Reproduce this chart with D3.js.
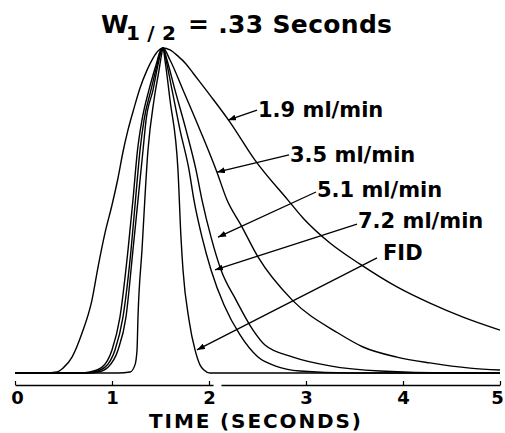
<!DOCTYPE html>
<html>
<head>
<meta charset="utf-8">
<script src="https://cdn.jsdelivr.net/npm/d3@7"></script>
<style>
  body { margin: 0; background: #fff; }
  text { font-family: "DejaVu Sans", "Liberation Sans", sans-serif; font-weight: bold; fill: #000; }
</style>
</head>
<body>
<svg width="505" height="433"></svg>
<script>
// peak traces: [time (s), relative signal]
let flow19 = [[0,0],[0.31,0],[0.433,0.003],[0.495,0.015],[0.588,0.049],[0.691,0.123],[0.794,0.225],[0.856,0.326],
  [0.928,0.431],[1.0,0.517],[1.062,0.6],[1.113,0.68],[1.165,0.748],[1.227,0.815],[1.289,0.877],[1.361,0.932],
  [1.423,0.969],[1.474,0.991],[1.526,1],[1.598,0.994],[1.68,0.975],[1.763,0.951],[1.835,0.923],[2.01,0.855],
  [2.216,0.772],[2.474,0.655],[2.814,0.532],[2.969,0.477],[3.247,0.4],[3.557,0.335],[3.938,0.265],[4.278,0.215],
  [4.619,0.172],[5,0.132]];
let flow35 = [[0,0],[0.67,0],[0.773,0.003],[0.897,0.018],[1.0,0.071],[1.082,0.172],[1.165,0.378],[1.216,0.532],
  [1.263,0.686],[1.309,0.778],[1.381,0.871],[1.454,0.948],[1.495,0.988],[1.526,1],[1.598,0.963],[1.732,0.871],
  [1.907,0.748],[2.082,0.618],[2.186,0.532],[2.33,0.455],[2.505,0.357],[2.856,0.225],[3.33,0.123],[3.588,0.08],
  [3.938,0.049],[4.278,0.031],[4.691,0.015],[5,0.009]];
let flow51 = [[0,0],[0.711,0],[0.814,0.003],[0.928,0.018],[1.031,0.071],[1.113,0.172],[1.196,0.378],[1.242,0.532],
  [1.289,0.686],[1.33,0.778],[1.402,0.871],[1.464,0.948],[1.495,0.988],[1.526,1],[1.567,0.963],[1.649,0.871],
  [1.763,0.748],[1.866,0.625],[1.928,0.532],[2.021,0.418],[2.124,0.317],[2.278,0.225],[2.454,0.132],[2.577,0.086],
  [2.866,0.049],[3.247,0.022],[3.763,0.006],[4.485,0],[5,0]];
let flow72 = [[0,0],[0.753,0],[0.856,0.003],[0.959,0.018],[1.062,0.071],[1.144,0.172],[1.216,0.378],[1.268,0.532],
  [1.32,0.686],[1.351,0.778],[1.423,0.871],[1.474,0.948],[1.505,0.988],[1.526,1],[1.557,0.963],[1.619,0.871],
  [1.701,0.748],[1.794,0.625],[1.845,0.532],[1.928,0.418],[2.021,0.317],[2.155,0.209],[2.32,0.117],[2.505,0.049],
  [2.68,0.022],[2.938,0.006],[3.454,0],[5,0]];
let fid = [[0,0],[1.062,0],[1.186,0.003],[1.237,0.025],[1.258,0.071],[1.268,0.172],[1.309,0.378],[1.371,0.686],
  [1.433,0.84],[1.485,0.932],[1.51,0.978],[1.526,1],[1.546,0.963],[1.598,0.84],[1.68,0.625],[1.711,0.418],
  [1.732,0.317],[1.794,0.163],[1.856,0.071],[1.907,0.025],[1.948,0.009],[2.01,0],[2.216,0],[5,0]];

let traces = [flow19, flow35, flow51, flow72, fid];
let labels = ["1.9 ml/min", "3.5 ml/min", "5.1 ml/min", "7.2 ml/min", "FID"];
// where each label sits and where its arrow points, in [time, signal]
let labelAt = [[2.505,0.788],[2.835,0.649],[3.113,0.542],[3.536,0.446],[3.794,0.348]];
let arrowFrom = [[2.495,0.809],[2.825,0.671],[3.103,0.557],[3.526,0.458],[3.732,0.354]];
let arrowTo = [[2.196,0.778],[2.082,0.618],[2.093,0.418],[2.062,0.317],[1.876,0.071]];
let ticks = [0, 1, 2, 3, 4, 5];

let svg = d3.select("svg");

let x = d3.scaleLinear().domain([0, 5]).range([15, 500]);
let y = d3.scaleLinear().domain([0, 1]).range([373, 48]);

svg.append("defs").append("marker")
  .attr("id", "tip")
  .attr("viewBox", "0 0 8 6")
  .attr("refX", 8).attr("refY", 3)
  .attr("markerWidth", 8).attr("markerHeight", 6)
  .attr("markerUnits", "userSpaceOnUse")
  .attr("orient", "auto")
  .append("path").attr("d", "M0,0L8,3L0,6Z").attr("fill", "#000");

let line = d3.line()
  .x(d => x(d[0]))
  .y(d => y(d[1]))
  .curve(d3.curveMonotoneX);

svg.append("g")
  .selectAll("path")
  .data(traces)
  .enter().append("path")
  .attr("d", line)
  .attr("fill", "none")
  .attr("stroke", "#000")
  .attr("stroke-width", 1.4);

svg.append("g")
  .selectAll("line")
  .data(labels)
  .enter().append("line")
  .attr("x1", (d, i) => x(arrowFrom[i][0]))
  .attr("y1", (d, i) => y(arrowFrom[i][1]))
  .attr("x2", (d, i) => x(arrowTo[i][0]))
  .attr("y2", (d, i) => y(arrowTo[i][1]))
  .attr("stroke", "#000")
  .attr("stroke-width", 1.3)
  .attr("marker-end", "url(#tip)");

svg.append("g")
  .selectAll("text")
  .data(labels)
  .enter().append("text")
  .attr("x", (d, i) => x(labelAt[i][0]))
  .attr("y", (d, i) => y(labelAt[i][1]))
  .style("font-size", "21px")
  .text(d => d);

// x axis, ticks pointing up into the plot
let axis = svg.append("g")
  .attr("transform", "translate(0,385)")
  .call(d3.axisBottom(x).tickValues(ticks).tickFormat(d3.format("d")).tickSize(-4).tickSizeOuter(0));

axis.select(".domain")
  .attr("stroke-width", 1.5)
  .attr("stroke-dasharray", "198,8,400");
axis.selectAll(".tick line").attr("stroke-width", 1.2);
axis.selectAll(".tick text")
  .attr("y", 19)
  .attr("dy", 0)
  .attr("dx", d => d === 5 ? -3 : d === 0 ? 2 : 0)
  .style("font-size", "18px")
  .style("font-family", "'DejaVu Sans', sans-serif")
  .style("font-weight", "bold");

svg.append("text")
  .attr("x", 255).attr("y", 428)
  .attr("text-anchor", "middle")
  .style("font-size", "20px")
  .attr("textLength", 212)
  .attr("lengthAdjust", "spacing")
  .text("TIME (SECONDS)");

// title: W with subscript 1/2
svg.append("text")
  .attr("x", 101).attr("y", 33)
  .style("font-size", "25px")
  .text("W");
svg.append("text")
  .attr("x", 126).attr("y", 40)
  .style("font-size", "20px")
  .attr("textLength", 50)
  .attr("lengthAdjust", "spacing")
  .text("1/2");
svg.append("text")
  .attr("x", 188).attr("y", 33)
  .style("font-size", "25px")
  .attr("textLength", 204)
  .attr("lengthAdjust", "spacing")
  .text("= .33 Seconds");
</script>
</body>
</html>
